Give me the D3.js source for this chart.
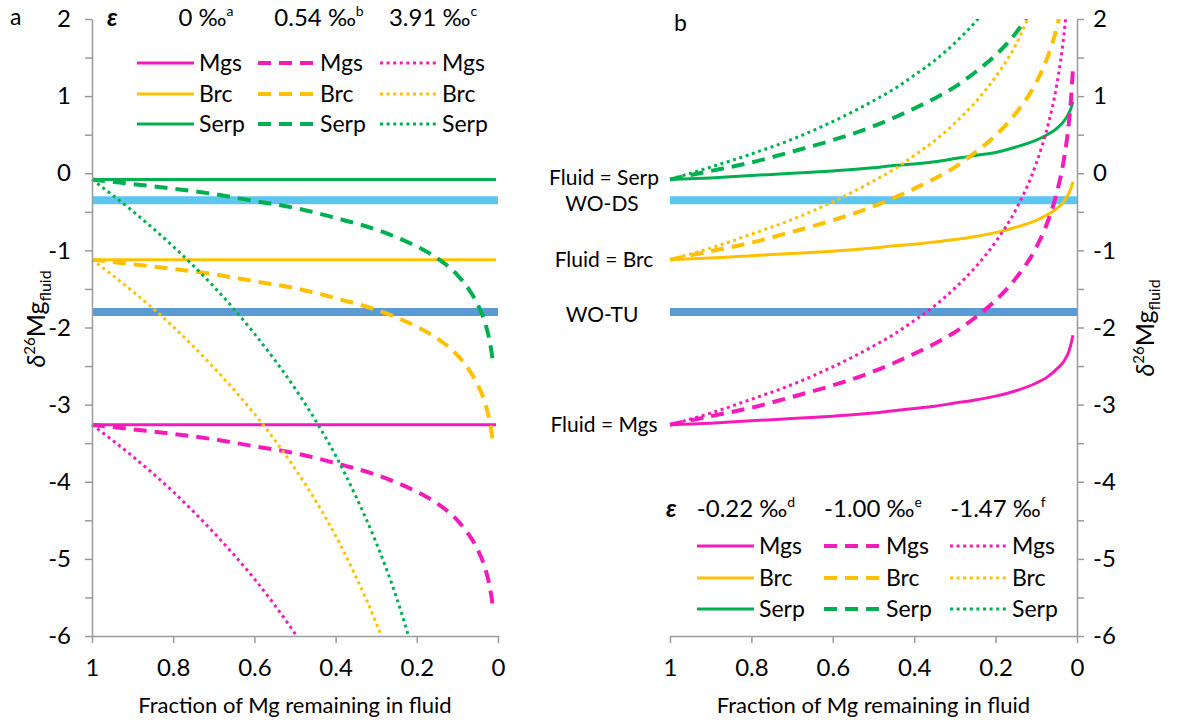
<!DOCTYPE html>
<html>
<head>
<meta charset="utf-8">
<script src="https://cdn.jsdelivr.net/npm/d3@7"></script>
<style>
body { margin: 0; background: #fff; }
text { font-family: Lato, 'Open Sans', sans-serif; fill: #000; }
</style>
</head>
<body>
<script>
// fraction of Mg left in the fluid, shared by every curve of a panel
var fracA = [1, 0.9, 0.8, 0.7, 0.6, 0.5, 0.45, 0.4, 0.35, 0.3, 0.25, 0.2, 0.15, 0.1, 0.07, 0.05, 0.03, 0.02, 0.015, 0.012];
var fracB = [1, 0.9, 0.8, 0.7, 0.6, 0.5, 0.45, 0.4, 0.35, 0.3, 0.25, 0.2, 0.15, 0.1, 0.07, 0.05, 0.03, 0.02, 0.015, 0.01];
var fracFlat = [1, 0.005];

// panel a, eps = 0 / 0.54 / 3.91 permil
var aMgsSolid = [-3.26, -3.26];
var aBrcSolid = [-1.12, -1.12];
var aSerpSolid = [-0.08, -0.08];
var aMgsDash = [-3.26, -3.32, -3.38, -3.45, -3.54, -3.63, -3.69, -3.76, -3.83, -3.91, -4.01, -4.13, -4.28, -4.50, -4.70, -4.88, -5.15, -5.37, -5.53, -5.65];
var aBrcDash = [-1.12, -1.18, -1.24, -1.31, -1.40, -1.49, -1.55, -1.62, -1.69, -1.77, -1.87, -1.99, -2.14, -2.36, -2.56, -2.74, -3.01, -3.23, -3.39, -3.51];
var aSerpDash = [-0.08, -0.14, -0.20, -0.27, -0.36, -0.45, -0.51, -0.58, -0.65, -0.73, -0.83, -0.95, -1.10, -1.32, -1.52, -1.70, -1.97, -2.19, -2.35, -2.47];
var aMgsDot = [-3.26, -3.67, -4.13, -4.66, -5.26, -5.97, -6.38];
var aBrcDot = [-1.12, -1.53, -1.99, -2.52, -3.12, -3.83, -4.24, -4.70, -5.23, -5.83, -6.54];
var aSerpDot = [-0.08, -0.49, -0.95, -1.47, -2.08, -2.79, -3.20, -3.66, -4.19, -4.79, -5.50, -6.37];

// panel b, eps = -0.22 / -1.00 / -1.47 permil
var bMgsSolid = [-3.26, -3.24, -3.21, -3.18, -3.15, -3.11, -3.08, -3.05, -3.02, -2.98, -2.94, -2.89, -2.82, -2.72, -2.63, -2.54, -2.42, -2.31, -2.22, -2.10];
var bBrcSolid = [-1.12, -1.10, -1.07, -1.04, -1.01, -0.97, -0.94, -0.92, -0.89, -0.86, -0.82, -0.77, -0.70, -0.61, -0.53, -0.46, -0.35, -0.26, -0.20, -0.11];
var bSerpSolid = [-0.08, -0.06, -0.03, 0.00, 0.03, 0.07, 0.10, 0.12, 0.15, 0.19, 0.23, 0.27, 0.34, 0.43, 0.51, 0.58, 0.69, 0.78, 0.84, 0.93];
var bMgsDash = [-3.26, -3.15, -3.04, -2.90, -2.75, -2.57, -2.46, -2.34, -2.21, -2.06, -1.87, -1.65, -1.36, -0.96, -0.60, -0.26, 0.25, 0.65, 0.94, 1.35];
var bBrcDash = [-1.12, -1.01, -0.90, -0.76, -0.61, -0.43, -0.32, -0.20, -0.07, 0.08, 0.27, 0.49, 0.78, 1.18, 1.54, 1.88, 2.39];
var bSerpDash = [-0.08, 0.03, 0.14, 0.28, 0.43, 0.61, 0.72, 0.84, 0.97, 1.12, 1.31, 1.53, 1.82, 2.22];
var bMgsDot = [-3.26, -3.11, -2.93, -2.74, -2.51, -2.24, -2.09, -1.91, -1.72, -1.49, -1.22, -0.89, -0.47, 0.13, 0.65, 1.14, 1.90, 2.49];
var bBrcDot = [-1.12, -0.97, -0.79, -0.60, -0.37, -0.10, 0.05, 0.23, 0.42, 0.65, 0.92, 1.25, 1.67, 2.27];
var bSerpDot = [-0.08, 0.08, 0.25, 0.44, 0.67, 0.94, 1.09, 1.27, 1.46, 1.69, 1.96, 2.29];

var minerals = ['Mgs', 'Brc', 'Serp'];
var epsA = ['0 ‰', '0.54 ‰', '3.91 ‰'];
var epsANotes = ['a', 'b', 'c'];
var epsB = ['-0.22 ‰', '-1.00 ‰', '-1.47 ‰'];
var epsBNotes = ['d', 'e', 'f'];
var startLabels = ['Fluid = Serp', 'Fluid = Brc', 'Fluid = Mgs'];
var startValues = [-0.08, -1.12, -3.26];
var bandNames = ['WO-DS', 'WO-TU'];
var bandValues = [-0.35, -1.80];
var xTicks = [1, 0.8, 0.6, 0.4, 0.2, 0];
var yTicks = [-6, -5.5, -5, -4.5, -4, -3.5, -3, -2.5, -2, -1.5, -1, -0.5, 0, 0.5, 1, 1.5, 2];

var colors = {Mgs: '#F41BBA', Brc: '#FFC000', Serp: '#00B050'};
var bandColors = ['#5EC5EE', '#5B9BD5'];
var styles = [
	{width: 3, dash: null}
	, {width: 4, dash: '13,8'}
	, {width: 3, dash: '3,3.6'}
];

var seriesA = [
	{frac: fracFlat, vals: aMgsSolid, m: 'Mgs', s: 0}
	, {frac: fracFlat, vals: aBrcSolid, m: 'Brc', s: 0}
	, {frac: fracFlat, vals: aSerpSolid, m: 'Serp', s: 0}
	, {frac: fracA, vals: aMgsDash, m: 'Mgs', s: 1}
	, {frac: fracA, vals: aBrcDash, m: 'Brc', s: 1}
	, {frac: fracA, vals: aSerpDash, m: 'Serp', s: 1}
	, {frac: fracA, vals: aMgsDot, m: 'Mgs', s: 2}
	, {frac: fracA, vals: aBrcDot, m: 'Brc', s: 2}
	, {frac: fracA, vals: aSerpDot, m: 'Serp', s: 2}
];
var seriesB = [
	{frac: fracB, vals: bMgsSolid, m: 'Mgs', s: 0}
	, {frac: fracB, vals: bBrcSolid, m: 'Brc', s: 0}
	, {frac: fracB, vals: bSerpSolid, m: 'Serp', s: 0}
	, {frac: fracB, vals: bMgsDash, m: 'Mgs', s: 1}
	, {frac: fracB, vals: bBrcDash, m: 'Brc', s: 1}
	, {frac: fracB, vals: bSerpDash, m: 'Serp', s: 1}
	, {frac: fracB, vals: bMgsDot, m: 'Mgs', s: 2}
	, {frac: fracB, vals: bBrcDot, m: 'Brc', s: 2}
	, {frac: fracB, vals: bSerpDot, m: 'Serp', s: 2}
];

var svg = d3.select('body').append('svg')
	.attr('width', 1204)
	.attr('height', 725);

var y = d3.scaleLinear().domain([-6, 2]).range([636, 19]);
var xA = d3.scaleLinear().domain([1, 0]).range([92, 498]);
var xB = d3.scaleLinear().domain([1, 0]).range([670, 1077]);

var defs = svg.append('defs');
defs.append('clipPath').attr('id', 'clipA').append('rect')
	.attr('x', 80).attr('y', y(2)).attr('width', 440).attr('height', y(-6) - y(2));
defs.append('clipPath').attr('id', 'clipB').append('rect')
	.attr('x', 650).attr('y', y(2)).attr('width', 440).attr('height', y(-6) - y(2));

function plain(d) {return String(d);}

function intLabel(d) {
	return d % 1 === 0 ? String(d) : '';
}

function styleAxis(sel) {
	sel.select('.domain').style('stroke', '#9A9A9A').style('stroke-width', 1.5);
	sel.selectAll('.tick line').style('stroke', '#9A9A9A').style('stroke-width', 1.5);
	sel.selectAll('.tick text').style('font-family', 'Lato, sans-serif').style('font-size', '24px').style('fill', '#000');
}

function drawPanel(x, series, clipId) {
	var g = svg.append('g');

	g.selectAll('.band')
		.data(bandValues)
		.enter()
		.append('line')
		.attr('x1', x(1))
		.attr('x2', x(0))
		.attr('y1', function(d) {return y(d);})
		.attr('y2', function(d) {return y(d);})
		.style('stroke', function(d, i) {return bandColors[i];})
		.style('stroke-width', 8);

	var line = d3.line()
		.x(function(d) {return x(d[0]);})
		.y(function(d) {return y(d[1]);})
		.curve(d3.curveMonotoneX);

	g.append('g')
		.attr('clip-path', 'url(#' + clipId + ')')
		.selectAll('.curve')
		.data(series)
		.enter()
		.append('path')
		.attr('class', 'curve')
		.attr('d', function(d) {
			return line(d.vals.map(function(v, i) {return [d.frac[i], v];}));
		})
		.style('fill', 'none')
		.style('stroke', function(d) {return colors[d.m];})
		.style('stroke-width', function(d) {return styles[d.s].width;})
		.style('stroke-dasharray', function(d) {return styles[d.s].dash;});

	var xAxis = g.append('g')
		.attr('transform', 'translate(0,' + y(-6) + ')')
		.call(d3.axisBottom(x).tickValues(xTicks).tickFormat(plain).tickSize(7).tickSizeOuter(0).tickPadding(16));
	styleAxis(xAxis);

	g.append('text')
		.attr('x', (x(1) + x(0)) / 2)
		.attr('y', 713)
		.attr('text-anchor', 'middle')
		.style('font-size', '22px')
		.text('Fraction of Mg remaining in fluid');
	return g;
}

function yLabel(tx, ty) {
	var t = svg.append('text')
		.attr('transform', 'translate(' + tx + ',' + ty + ') rotate(-90)')
		.attr('text-anchor', 'middle')
		.style('font-size', '25px');
	t.append('tspan').style('font-style', 'italic').text('δ');
	t.append('tspan').attr('dy', -10).style('font-size', '15px').text('26');
	t.append('tspan').attr('dy', 10).text('Mg');
	t.append('tspan').attr('dy', 6).style('font-size', '16px').text('fluid');
}

function legend(x0, yHead, rows, colX, headCx, labels, notes) {
	var g = svg.append('g');
	g.append('text')
		.attr('x', x0)
		.attr('y', yHead)
		.style('font-size', '25px')
		.style('font-weight', 'bold')
		.style('font-style', 'italic')
		.text('ε');
	labels.forEach(function(lab, j) {
		var t = g.append('text')
			.attr('x', headCx[j])
			.attr('y', yHead)
			.attr('text-anchor', 'middle')
			.style('font-size', '24px');
		t.append('tspan').text(lab);
		t.append('tspan').attr('dy', -10).style('font-size', '14px').text(notes[j]);
	});
	minerals.forEach(function(m, i) {
		styles.forEach(function(st, j) {
			g.append('line')
				.attr('x1', colX[j])
				.attr('x2', colX[j] + 57)
				.attr('y1', rows[i])
				.attr('y2', rows[i])
				.style('stroke', colors[m])
				.style('stroke-width', st.width)
				.style('stroke-dasharray', st.dash);
			g.append('text')
				.attr('x', colX[j] + 62)
				.attr('y', rows[i])
				.attr('dy', '0.35em')
				.style('font-size', '23px')
				.text(m);
		});
	});
}

drawPanel(xA, seriesA, 'clipA');
drawPanel(xB, seriesB, 'clipB');

var leftAxis = svg.append('g')
	.attr('transform', 'translate(' + xA(1) + ',0)')
	.call(d3.axisLeft(y).tickValues(yTicks).tickFormat(intLabel).tickSize(7).tickSizeOuter(0).tickPadding(14));
styleAxis(leftAxis);

var rightAxis = svg.append('g')
	.attr('transform', 'translate(' + xB(0) + ',0)')
	.call(d3.axisRight(y).tickValues(yTicks).tickFormat(intLabel).tickSize(7).tickSizeOuter(0).tickPadding(9));
styleAxis(rightAxis);

yLabel(45, 319);
yLabel(1154, 328);

svg.selectAll('.startLabel')
	.data(startLabels)
	.enter()
	.append('text')
	.attr('x', 604)
	.attr('y', function(d, i) {return y(startValues[i]) - (i === 0 ? 2 : 0);})
	.attr('dy', '0.35em')
	.attr('text-anchor', 'middle')
	.style('font-size', '21px')
	.text(function(d) {return d;});

svg.selectAll('.bandLabel')
	.data(bandNames)
	.enter()
	.append('text')
	.attr('x', 602)
	.attr('y', function(d, i) {return y(bandValues[i]) + 3;})
	.attr('dy', '0.35em')
	.attr('text-anchor', 'middle')
	.style('font-size', '21px')
	.text(function(d) {return d;});

svg.append('text').attr('x', 10).attr('y', 25).style('font-size', '23px').text('a');
svg.append('text').attr('x', 674).attr('y', 31).style('font-size', '23px').text('b');

legend(107, 26, [63, 94, 124], [137, 258, 380], [206, 319, 433], epsA, epsANotes);
legend(666, 517, [546, 578, 609], [697, 824, 950], [746, 873, 998], epsB, epsBNotes);
</script>
</body>
</html>
